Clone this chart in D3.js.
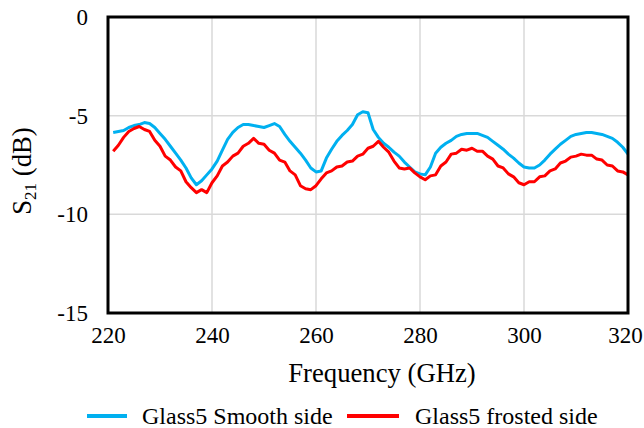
<!DOCTYPE html>
<html>
<head>
<meta charset="utf-8">
<script src="https://cdn.jsdelivr.net/npm/d3@7"></script>
<style>
  body { margin: 0; background: #fff; }
  text { font-family: "Liberation Serif", "Times New Roman", serif; fill: #000; }
</style>
</head>
<body>
<div id="chart"></div>
<script>
// frequency sweep (GHz)
const freq = [221,222,223,224,225,226,227,228,229,230,231,232,233,234,235,236,237,238,239,240,
  241,242,243,244,245,246,247,248,249,250,251,252,253,254,255,256,257,258,259,260,
  261,262,263,264,265,266,267,268,269,270,271,272,273,274,275,276,277,278,279,280,
  281,282,283,284,285,286,287,288,289,290,291,292,293,294,295,296,297,298,299,300,
  301,302,303,304,305,306,307,308,309,310,311,312,313,314,315,316,317,318,319,320]

// S21 (dB), smooth side
const smooth = [-5.85,-5.8,-5.75,-5.6,-5.5,-5.45,-5.35,-5.4,-5.6,-5.9,-6.2,-6.55,-6.9,-7.25,-7.65,-8.15,-8.5,-8.3,-8.0,-7.7,
  -7.3,-6.75,-6.2,-5.85,-5.6,-5.45,-5.45,-5.5,-5.55,-5.6,-5.5,-5.4,-5.55,-5.95,-6.3,-6.6,-6.9,-7.25,-7.65,-7.85,
  -7.8,-7.15,-6.7,-6.3,-6.0,-5.75,-5.45,-4.95,-4.8,-4.85,-5.7,-6.1,-6.4,-6.6,-6.85,-7.05,-7.35,-7.6,-7.85,-7.95,
  -8.0,-7.6,-6.9,-6.6,-6.4,-6.25,-6.05,-5.95,-5.9,-5.9,-5.9,-6.0,-6.1,-6.3,-6.5,-6.7,-6.95,-7.15,-7.4,-7.6,
  -7.65,-7.65,-7.5,-7.25,-6.95,-6.7,-6.45,-6.25,-6.05,-5.95,-5.9,-5.85,-5.85,-5.9,-5.95,-6.05,-6.15,-6.35,-6.6,-6.95]

// S21 (dB), frosted side
const frosted = [-6.8,-6.5,-6.1,-5.8,-5.65,-5.55,-5.7,-5.8,-6.25,-6.55,-7.05,-7.25,-7.6,-7.8,-8.35,-8.65,-8.9,-8.75,-8.9,-8.4,
  -8.05,-7.55,-7.35,-7.05,-6.9,-6.55,-6.4,-6.15,-6.4,-6.45,-6.75,-6.9,-7.25,-7.35,-7.8,-8.0,-8.55,-8.7,-8.75,-8.55,
  -8.2,-7.9,-7.8,-7.6,-7.55,-7.35,-7.3,-7.05,-6.95,-6.65,-6.55,-6.3,-6.6,-6.85,-7.3,-7.65,-7.7,-7.65,-7.9,-8.1,
  -8.25,-8.05,-8.0,-7.55,-7.35,-6.95,-6.9,-6.7,-6.75,-6.65,-6.8,-6.8,-7.05,-7.2,-7.55,-7.65,-7.95,-8.1,-8.4,-8.5,
  -8.35,-8.35,-8.1,-8.05,-7.8,-7.7,-7.4,-7.3,-7.1,-7.05,-6.95,-7.0,-7.0,-7.2,-7.25,-7.5,-7.55,-7.8,-7.85,-8.0]

const xTicks = [220, 240, 260, 280, 300, 320]
const yTicks = [0, -5, -10, -15]
const seriesNames = ['Glass5 Smooth side', 'Glass5 frosted side']
const seriesColors = ['#00b0f0', '#ff0000']

let margin = { top: 17, left: 108, right: 16, bottom: 115 }
let width = 644 - margin.left - margin.right
let height = 428 - margin.top - margin.bottom

let svg = d3.select('#chart')
  .append('svg')
  .attr('width', 644)
  .attr('height', 428)

let g = svg.append('g')
  .attr('transform', 'translate(' + margin.left + ',' + margin.top + ')')

const x = d3.scaleLinear().domain([220, 320]).range([0, width])
const y = d3.scaleLinear().domain([-15, 0]).range([height, 0])

// gridlines
g.selectAll('.vgrid')
  .data(xTicks.slice(1, -1))
  .enter().append('line')
  .attr('x1', d => x(d)).attr('x2', d => x(d))
  .attr('y1', 0).attr('y2', height)
  .attr('stroke', '#d9d9d9').attr('stroke-width', 1.5)

g.selectAll('.hgrid')
  .data(yTicks.slice(1, -1))
  .enter().append('line')
  .attr('x1', 0).attr('x2', width)
  .attr('y1', d => y(d)).attr('y2', d => y(d))
  .attr('stroke', '#d9d9d9').attr('stroke-width', 1.5)

// axes (labels only, frame drawn separately)
let xAxis = g.append('g')
  .attr('transform', 'translate(0,' + height + ')')
  .attr('font-family', 'Liberation Serif')
  .attr('font-size', 23)
  .call(d3.axisBottom(x).tickValues(xTicks).tickSize(0).tickPadding(14).tickFormat(d => String(d)))
xAxis.attr('font-family', 'Liberation Serif').attr('font-size', 23)
xAxis.select('.domain').remove()
xAxis.selectAll('text').attr('fill', '#000')
  .attr('dx', d => d === 320 ? -3 : 0)

let yAxis = g.append('g')
  .call(d3.axisLeft(y).tickValues(yTicks).tickSize(0).tickPadding(20).tickFormat(d => String(d)))
yAxis.attr('font-family', 'Liberation Serif').attr('font-size', 23)
yAxis.select('.domain').remove()
yAxis.selectAll('text').attr('fill', '#000')

// lines
const line = d3.line()
  .x(d => x(d[0]))
  .y(d => y(d[1]))

const series = [smooth, frosted]
series.forEach(function (vals, i) {
  g.append('path')
    .datum(freq.map((f, j) => [f, vals[j]]))
    .attr('d', line)
    .attr('fill', 'none')
    .attr('stroke', seriesColors[i])
    .attr('stroke-width', 3)
    .attr('stroke-linejoin', 'round')
})

// plot frame
g.append('rect')
  .attr('width', width)
  .attr('height', height)
  .attr('fill', 'none')
  .attr('stroke', '#000')
  .attr('stroke-width', 3)

// axis titles
svg.append('text')
  .attr('x', 382)
  .attr('y', 382)
  .attr('text-anchor', 'middle')
  .style('font-size', '26.7px')
  .text('Frequency (GHz)')

let yt = svg.append('text')
  .attr('transform', 'translate(31,171) rotate(-90)')
  .attr('text-anchor', 'middle')
  .style('font-size', '26.7px')
yt.append('tspan').text('S')
yt.append('tspan').attr('dy', 5).style('font-size', '17px').text('21')
yt.append('tspan').attr('dy', -5).text(' (dB)')

// legend
const legendX = [[87, 127, 142], [347, 399, 415]]
seriesNames.forEach(function (name, i) {
  svg.append('line')
    .attr('x1', legendX[i][0]).attr('x2', legendX[i][1])
    .attr('y1', 416).attr('y2', 416)
    .attr('stroke', seriesColors[i])
    .attr('stroke-width', 4)
  svg.append('text')
    .attr('x', legendX[i][2])
    .attr('y', 424)
    .style('font-size', '24px')
    .text(name)
})
</script>
</body>
</html>
